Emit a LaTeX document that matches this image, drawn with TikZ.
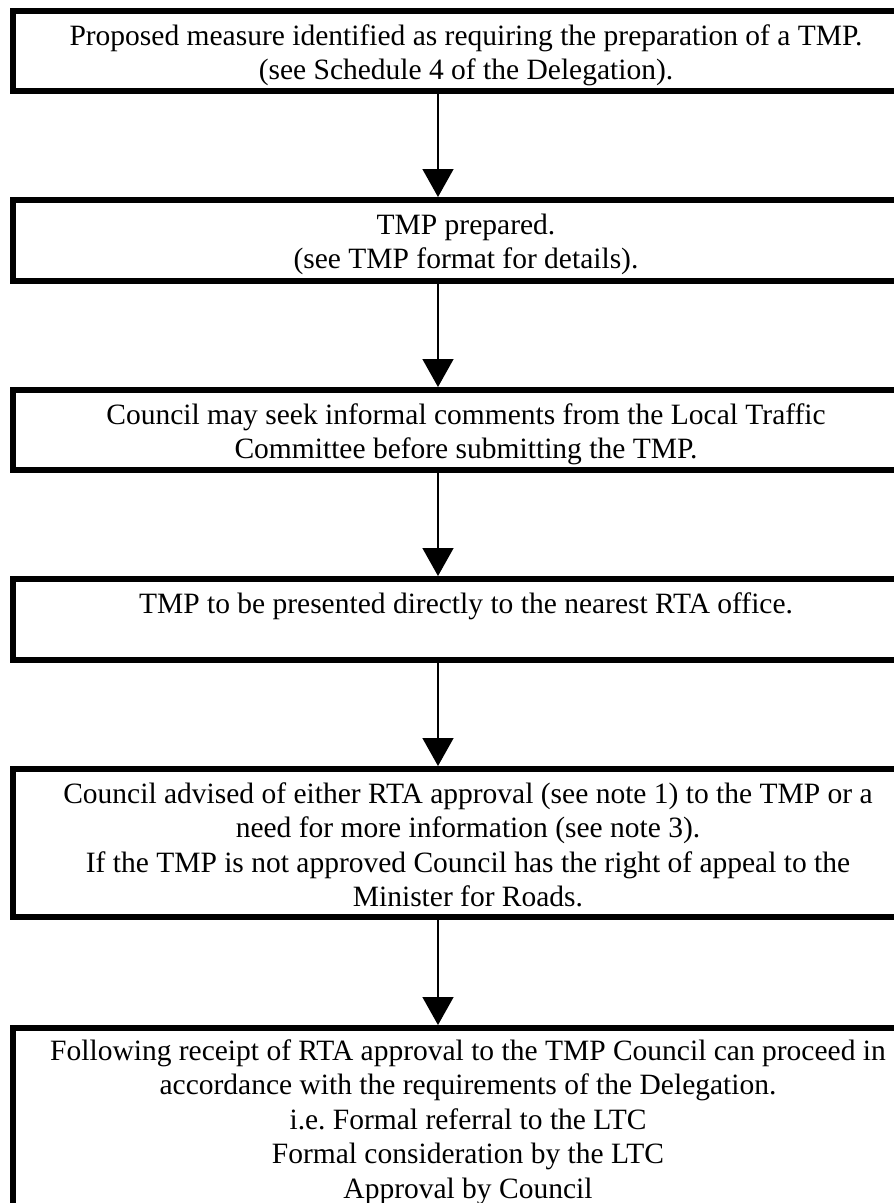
\documentclass[tikz,border=0pt]{standalone}
\usepackage{fontspec}
\setmainfont{Liberation Serif}
\usetikzlibrary{arrows.meta}
\frenchspacing
\newcommand\firststrut{\rule{0pt}{24pt}}
\begin{document}
\begin{tikzpicture}[x=1pt,y=-1pt,
  stepbox/.style={draw=black, line width=6pt, fill=white, minimum width=907pt, inner sep=0pt, rectangle},
  txt/.style={anchor=north, align=center, inner sep=0pt, font=\fontsize{29.5}{34.5}\selectfont},
  arr/.style={line width=1.5pt, -{Triangle[width=31pt,length=28pt]}, shorten >=0pt}]
\useasboundingbox (0,0) rectangle (894,1203);
\coordinate (ax) at (438,0);
% boxes (border centre lines)
\node[stepbox, minimum height=80pt] (b1) at (466.5,51) {};
\node[stepbox, minimum height=81pt] (b2) at (466.5,240.5) {};
\node[stepbox, minimum height=80pt] (b3) at (466.5,430) {};
\node[stepbox, minimum height=81pt] (b4) at (466.5,619.5) {};
\node[stepbox, minimum height=148pt] (b5) at (466.5,843) {};
\node[stepbox, minimum height=212pt] (b6) at (466.5,1134) {};
% texts
\node[txt] (t1) at (466,21) {\firststrut Proposed measure identified as requiring the preparation of a TMP.\\(see Schedule 4 of the Delegation).};
\node[txt] (t2) at (466,210) {\firststrut TMP prepared.\\(see TMP format for details).};
\node[txt] (t3) at (466,400) {\firststrut Council may seek informal comments from the Local Traffic\\Committee before submitting the TMP.};
\node[txt] (t4) at (466,589) {\firststrut TMP to be presented directly to the nearest RTA office.};
\node[txt] (t5) at (468,779) {\firststrut Council advised of either RTA approval (see note 1) to the TMP or a\\need for more information (see note 3).\\If the TMP is not approved Council has the right of appeal to the\\Minister for Roads.};
\node[txt] (t6) at (468,1036) {\firststrut Following receipt of RTA approval to the TMP Council can proceed in\\accordance with the requirements of the Delegation.\\i.e. Formal referral to the LTC\\Formal consideration by the LTC\\Approval by Council};
% connectors
\draw[arr] (b1.south -| ax) -- (b2.north -| ax);
\draw[arr] (b2.south -| ax) -- (b3.north -| ax);
\draw[arr] (b3.south -| ax) -- (b4.north -| ax);
\draw[arr] (b4.south -| ax) -- (b5.north -| ax);
\draw[arr] (b5.south -| ax) -- (b6.north -| ax);
\end{tikzpicture}
\end{document}
